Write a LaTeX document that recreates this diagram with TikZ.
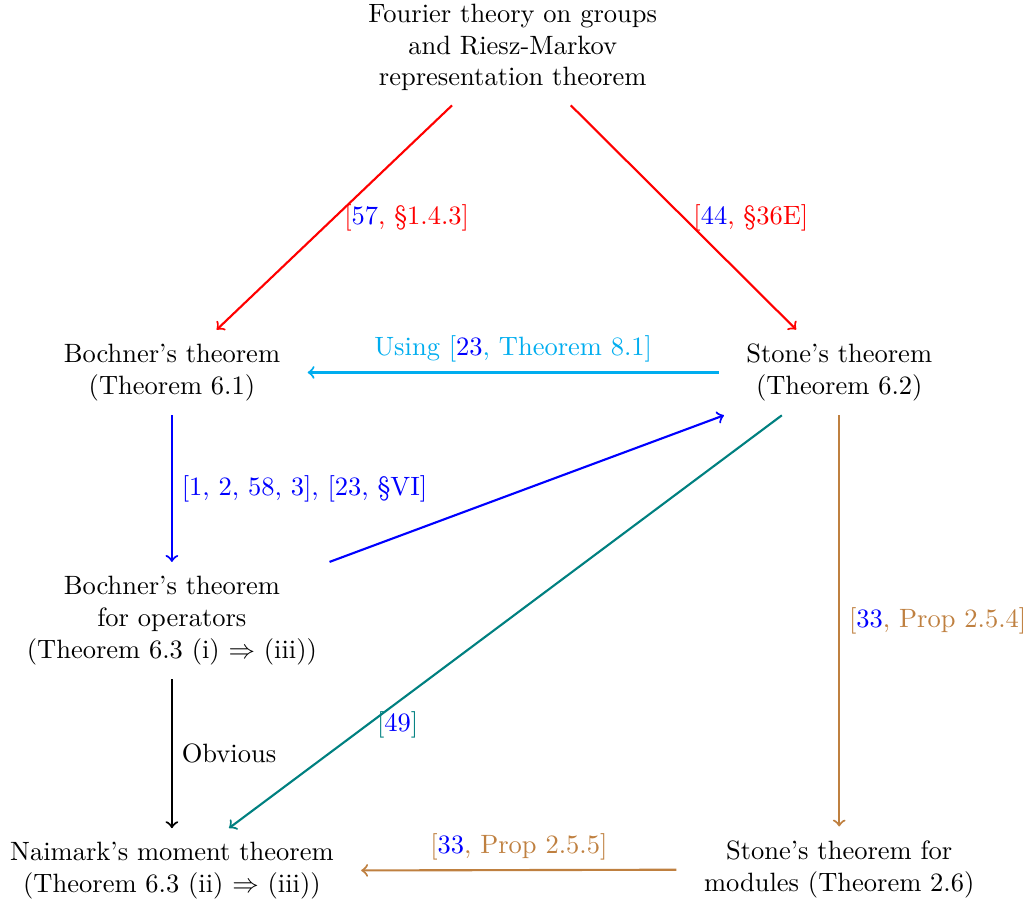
\documentclass[tikz,border=0pt]{standalone}
\usepackage{tikz}

\begin{document}
\begin{tikzpicture}[
		every path/.style={thick},
		thm/.style={align=center, inner xsep=10pt, inner ysep=5pt}
	]
	\useasboundingbox (0, 0) rectangle (13.70, 12.02);

	\node[thm] (fourier) at (6.80, 11.39) {Fourier theory on groups\\and Riesz-Markov\\representation theorem};
	\node[thm] (bochner) at (2.28, 7.08) {Bochner's theorem\\(Theorem 6.1)};
	\node[thm] (stone) at (11.13, 7.08) {Stone's theorem\\(Theorem 6.2)};
	\node[thm] (bochop) at (2.28, 3.79) {Bochner's theorem\\for operators\\(Theorem 6.3 (i) $\Rightarrow$ (iii))};
	\node[thm] (naimark) at (2.28, 0.47) {Naimark's moment theorem\\(Theorem 6.3 (ii) $\Rightarrow$ (iii))};
	\node[thm] (stonemod) at (11.13, 0.49) {Stone's theorem for\\modules (Theorem 2.6)};

	\draw[->, red] (fourier) -- (bochner) node[midway, right] {[{\color{blue}57}, \S1.4.3]};
	\draw[->, red] (fourier) -- (stone) node[midway, right] {[{\color{blue}44}, \S36E]};
	\draw[->, cyan] (stone) -- (bochner) node[midway, above] {Using [{\color{blue}23}, Theorem 8.1]};
	\draw[->, blue] (bochner) -- (bochop) node[midway, right] {[1, 2, 58, 3], [23, \S VI]};
	\draw[->, blue] (bochop) -- (stone);
	\draw[->, teal] (stone) -- (naimark) node[pos=0.75, right] {[{\color{blue}49}]};
	\draw[->, brown] (stone) -- (stonemod) node[midway, right] {[{\color{blue}33}, Prop 2.5.4]};
	\draw[->, brown] (stonemod) -- (naimark) node[midway, above] {[{\color{blue}33}, Prop 2.5.5]};
	\draw[->] (bochop) -- (naimark) node[midway, right] {Obvious};
\end{tikzpicture}
\end{document}
